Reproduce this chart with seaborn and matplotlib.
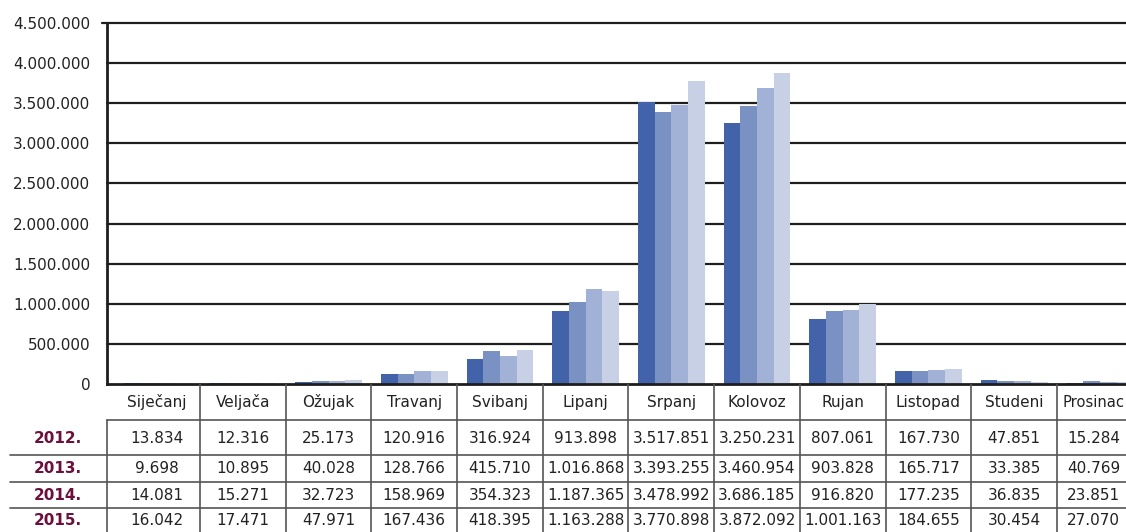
import numpy as np
import pandas as pd
import seaborn as sns
import matplotlib.pyplot as plt
from matplotlib.transforms import blended_transform_factory

# Data
months = ['Siječanj', 'Veljača', 'Ožujak', 'Travanj', 'Svibanj', 'Lipanj',
          'Srpanj', 'Kolovoz', 'Rujan', 'Listopad', 'Studeni', 'Prosinac']
years = ['2012.', '2013.', '2014.', '2015.']
v2012 = [13834, 12316, 25173, 120916, 316924, 913898, 3517851, 3250231, 807061, 167730, 47851, 15284]
v2013 = [9698, 10895, 40028, 128766, 415710, 1016868, 3393255, 3460954, 903828, 165717, 33385, 40769]
v2014 = [14081, 15271, 32723, 158969, 354323, 1187365, 3478992, 3686185, 916820, 177235, 36835, 23851]
v2015 = [16042, 17471, 47971, 167436, 418395, 1163288, 3770898, 3872092, 1001163, 184655, 30454, 27070]
series = [v2012, v2013, v2014, v2015]

colors = ['#4263a9', '#7a91c3', '#a2b2d6', '#c8d0e6']

df = pd.DataFrame({
    'month': [m for s in series for m in months],
    'year': [y for y, s in zip(years, series) for _ in s],
    'value': [v for s in series for v in s],
})


def fmt(v):
    return f"{v:,}".replace(',', '.')


sns.set_style('white')
plt.rcParams['font.family'] = ['DejaVu Sans']

W, H = 1126, 532
x0 = -0.585   # left edge of the plot (first table column is a bit wider)
unit = 85.7   # pixels per month
fig = plt.figure(figsize=(W / 100, H / 100), dpi=100)
ax = fig.add_axes([107 / W, (H - 384) / H, (11.5 - x0) * unit / W, (384 - 23) / H])

sns.barplot(data=df, x='month', y='value', hue='year', order=months,
            hue_order=years, palette=colors, width=0.78, saturation=1,
            linewidth=0, ax=ax, legend=False)

ax.set_xlim(x0, 11.5)
ax.set_ylim(0, 4500000)
yt = np.arange(0, 4500001, 500000)
ax.set_yticks(yt)
ax.set_yticklabels([fmt(int(t)) for t in yt], fontsize=11, color='#222222')
ax.tick_params(axis='y', length=0, pad=12)
ax.set_xticks([])
ax.set_xlabel('')
ax.set_ylabel('')
for t in yt[1:]:
    ax.axhline(t, color='#1e1e1e', lw=1.6, zorder=0, clip_on=False)
for s in ['right', 'top']:
    ax.spines[s].set_visible(False)
for s in ['left', 'bottom']:
    ax.spines[s].set_color('#1e1e1e')
    ax.spines[s].set_linewidth(2)
ax.plot([x0 - 0.06, x0], [4500000, 4500000], color='#1e1e1e', lw=1.6, clip_on=False)

# Data table under the chart
tab = fig.add_axes([0, 0, 1, (H - 384) / H])
tab.set_axis_off()
tab.set_xlim(0, W)
tab.set_ylim(0, 1)
tr = blended_transform_factory(ax.transData, tab.transAxes)

line_kw = dict(color='#555555', lw=1.2)
row_y = [0.635, 0.426, 0.25, 0.081]
sep_y = [0.520, 0.338, 0.162]

tab.plot([x0, x0], [0, 0.757], transform=tr, **line_kw)
for i in range(1, 12):
    tab.plot([i - 0.5, i - 0.5], [0, 1], transform=tr, **line_kw)
tab.plot([x0, 11.6], [0.757, 0.757], transform=tr, **line_kw)
for y in sep_y:
    tab.plot([10, W], [y, y], **line_kw)

# the last column is cut by the right edge, so its texts sit a bit left
col_x = [i if i < 11 else i - 0.07 for i in range(12)]

for cx, m in zip(col_x, months):
    tab.text(cx, 0.878, m, transform=tr, ha='center', va='center',
             fontsize=11 if m != 'Prosinac' else 10.6, color='#222222')
for y, lab, s in zip(row_y, years, series):
    tab.text(58, y, lab, ha='center', va='center', fontsize=11,
             fontweight='bold', color='#6b0f3d')
    for cx, v in zip(col_x, s):
        tab.text(cx, y, fmt(v), transform=tr, ha='center', va='center',
                 fontsize=11, color='#222222')

fig.savefig('out.png', dpi=100)
